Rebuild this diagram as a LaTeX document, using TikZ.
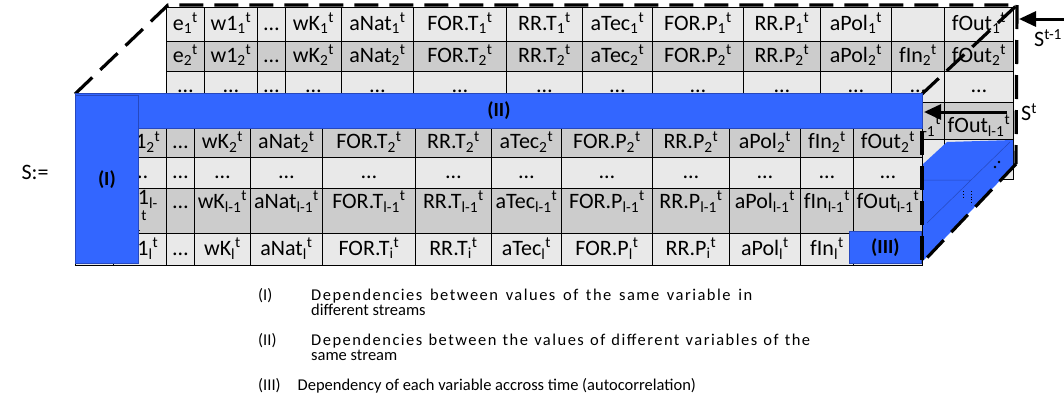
\documentclass[tikz,border=0pt]{standalone}
\usepackage{fontspec}
\setmainfont{Carlito}
\usetikzlibrary{arrows.meta, matrix}
\definecolor{rowlight}{RGB}{233,233,233}
\definecolor{rowdark}{RGB}{204,204,204}
\definecolor{depblue}{RGB}{51,102,255}
\definecolor{depline}{RGB}{38,72,190}
\newcommand{\cv}[2]{#1\textsubscript{#2}\textsuperscript{t}}
\newcommand{\cellfont}{\fontsize{22}{26}\selectfont}
\newcommand{\legfont}{\fontsize{16.5}{15}\selectfont}
% first line of a legend entry, spread over the given width
\newcommand{\spreadline}[2]{\makebox[#1][s]{\addfontfeature{LetterSpace=9}#2}}

\begin{document}
\begin{tikzpicture}[x=1pt, y=-1pt,
    cell/.style={draw, line width=0.9pt, anchor=center, inner xsep=1pt, inner ysep=0pt,
                 text height=15pt, text depth=3pt, font=\cellfont},
    tbl/.style n args={5}{matrix of nodes, nodes in empty cells, anchor=north west,
                 inner sep=0pt, outer sep=0pt, nodes={cell},
                 column sep=-0.9pt, row sep=-0.9pt,
                 column 1/.style={nodes={minimum width=38pt}},
                 column 2/.style={nodes={minimum width=53pt}},
                 column 3/.style={nodes={minimum width=28pt}},
                 column 4/.style={nodes={minimum width=56pt}},
                 column 5/.style={nodes={minimum width=72pt}},
                 column 6/.style={nodes={minimum width=93pt}},
                 column 7/.style={nodes={minimum width=76pt}},
                 column 8/.style={nodes={minimum width=70pt}},
                 column 9/.style={nodes={minimum width=91pt}},
                 column 10/.style={nodes={minimum width=77pt}},
                 column 11/.style={nodes={minimum width=71pt}},
                 column 12/.style={nodes={minimum width=53pt}},
                 column 13/.style={nodes={minimum width=69pt}},
                 row 1/.style={nodes={fill=rowlight, minimum height=#1}},
                 row 2/.style={nodes={fill=rowdark, minimum height=#2}},
                 row 3/.style={nodes={fill=rowlight, minimum height=#3}},
                 row 4/.style={nodes={fill=rowdark, minimum height=#4}},
                 row 5/.style={nodes={fill=rowlight, minimum height=#5}}},
    dep/.style={draw=depline, fill=depblue, line width=0.8pt, inner sep=0pt,
                anchor=north west, font=\fontsize{20}{24}\selectfont\bfseries},
    cubeedge/.style={line width=3.2pt, dash pattern=on 24pt off 11pt},
    arr/.style={-{Triangle[length=17pt, width=15pt]}, line width=3pt},
    lbl/.style={font=\fontsize{22}{26}\selectfont, inner sep=0pt},
    leg/.style={font=\legfont, align=left, anchor=base west, inner sep=0pt}
  ]
  \useasboundingbox (0,0) rectangle (1064,408);

  % corners of the stream cube
  \coordinate (btl) at (168,5);
  \coordinate (btr) at (1017,5);
  \coordinate (bbr) at (1016,164);
  \coordinate (ftl) at (75,94);
  \coordinate (ftr) at (922,94);
  \coordinate (fmid) at (922,131);
  \coordinate (fbr) at (922,263);

  % previous time step (back), lower rows sit behind the front table
  \matrix (prev) [tbl={34pt}{30pt}{31pt}{37pt}{40pt},
                  row 4/.append style={nodes={text height=23pt, text depth=0pt}}] at (166,7) {
    \cv{e}{1} & \cv{w1}{1} & … & \cv{wK}{1} & \cv{aNat}{1} & \cv{FOR.T}{1} & \cv{RR.T}{1} & \cv{aTec}{1} & \cv{FOR.P}{1} & \cv{RR.P}{1} & \cv{aPol}{1} & & \cv{fOut}{1} \\
    \cv{e}{2} & \cv{w1}{2} & … & \cv{wK}{2} & \cv{aNat}{2} & \cv{FOR.T}{2} & \cv{RR.T}{2} & \cv{aTec}{2} & \cv{FOR.P}{2} & \cv{RR.P}{2} & \cv{aPol}{2} & \cv{fIn}{2} & \cv{fOut}{2} \\
    … & … & … & … & … & … & … & … & … & … & … & … & … \\
    & & & & & & & & & & & \cv{fIn}{l-1} & \cv{fOut}{l-1} \\
    & & & & & & & & & & & & \\
  };

  % side face of (III)
  \fill[depblue] (922,165) -- (947,142) -- (1013,140) -- (1013,167) -- (922,262) -- cycle;
  \draw[depline, line width=0.5pt] (922,180) -- (970,180) (927,223) -- (1010,142);
  \draw[line width=0.8pt, dotted] (963,191) -- (963,197) (971,191) -- (971,205);
  \fill (995,167) circle (1.3) (999,162) circle (1.3);

  \draw[cubeedge] (ftl) -- (btl) -- (btr) -- (ftr);
  \draw[cubeedge] (btr) -- (bbr);

  % current time step (front), first row lies under (II)
  \matrix (cur) [tbl={34pt}{29pt}{31pt}{45pt}{32pt},
                 row 4/.append style={nodes={text height=10pt, text depth=15pt}}] at (75,94) {
    & & & & & & & & & & & & \\
    & \cv{w1}{2} & … & \cv{wK}{2} & \cv{aNat}{2} & \cv{FOR.T}{2} & \cv{RR.T}{2} & \cv{aTec}{2} & \cv{FOR.P}{2} & \cv{RR.P}{2} & \cv{aPol}{2} & \cv{fIn}{2} & \cv{fOut}{2} \\
    & … & … & … & … & … & … & … & … & … & … & … & … \\
    & |[text height=, text depth=]| \shortstack{w1\textsubscript{l-}\\\textsubscript{1}\textsuperscript{t}} & … & \cv{wK}{l-1} & \cv{aNat}{l-1} & \cv{FOR.T}{l-1} & \cv{RR.T}{l-1} & \cv{aTec}{l-1} & \cv{FOR.P}{l-1} & \cv{RR.P}{l-1} & \cv{aPol}{l-1} & \cv{fIn}{l-1} & \cv{fOut}{l-1} \\
    & \cv{w1}{l} & … & \cv{wK}{l} & \cv{aNat}{l} & \cv{FOR.T}{i} & \cv{RR.T}{i} & \cv{aTec}{l} & \cv{FOR.P}{l} & \cv{RR.P}{i} & \cv{aPol}{l} & \cv{fIn}{l} & \\
  };

  % dependency blocks
  \node[dep, minimum width=847pt, minimum height=35pt] (depII) at (75,93) {(II)};
  \node[dep, minimum width=63pt, minimum height=168pt] (depI) at (75,95) {(I)};
  \node[dep, minimum width=72pt, minimum height=32pt] (depIII) at (849,231) {(III)};

  \draw[cubeedge] (fmid) -- (fbr);
  \draw[cubeedge] (bbr) -- (fbr);

  % time steps
  \coordinate (prevsrc) at (1068,19);
  \coordinate (prevtip) at (1019,19);
  \coordinate (cursrc) at (1007,112);
  \coordinate (curtip) at (924,112);
  \draw[arr] (prevsrc) -- (prevtip);
  \draw[arr] (cursrc) -- (curtip);
  \node[lbl, anchor=west] (prevlbl) at (1034,38) {S\textsuperscript{t-1}};
  \node[lbl, anchor=west] (curlbl) at (1021,112) {S\textsuperscript{t}};
  \node[lbl] (slbl) at (35,172) {S:=};

  % legend
  \node[leg] (numI) at (258,300) {(I)};
  \node[leg] (txtI) at (311,315) {\spreadline{441pt}{Dependencies between values of the same variable in}\\different streams};
  \node[leg] (numII) at (258,345) {(II)};
  \node[leg] (txtII) at (311,360) {\spreadline{499pt}{Dependencies between the values of different variables of the}\\same stream};
  \node[leg] (txtIII) at (258,390) {(III)\hspace{17pt}Dependency of each variable accross time (autocorrelation)};
\end{tikzpicture}
\end{document}
